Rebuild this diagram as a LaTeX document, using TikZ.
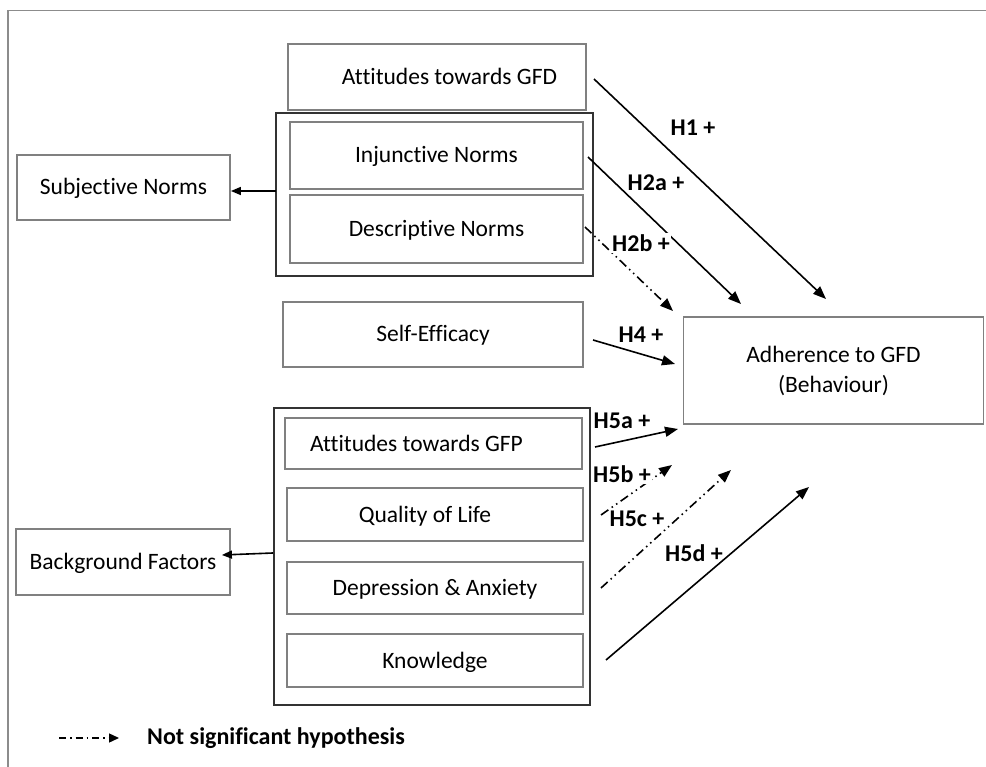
\documentclass[tikz,border=0pt]{standalone}
\usepackage{fontspec}
\setmainfont{Carlito}[Ligatures={NoCommon,NoRequired,NoContextual}]
\usetikzlibrary{arrows.meta,calc}
\begin{document}
\begin{tikzpicture}[x=1pt,y=-1pt,
  every node/.style={font=\fontsize{23.5}{30}\selectfont},
  inbox/.style={draw=black!50,line width=1.8pt,minimum width=#1,inner sep=0pt,
    text height=17pt,text depth=2pt},
  grpbox/.style={draw=black!80,line width=1.8pt},
  lbl/.style={font=\fontsize{24}{28}\selectfont\bfseries,inner sep=0pt},
  hyp/.style={line width=1.6pt,-{Triangle[length=13pt,width=10pt]}},
  nshyp/.style={hyp,dash pattern=on 9pt off 4pt on 1.5pt off 4pt on 1.5pt off 4pt}]
\useasboundingbox (0,0) rectangle (986,767);
% page frame (top and left edges)
\draw[black!45,line width=1.2pt] (986,10.5) -- (8,10.5) -- (8,767);

% attitudes
\node[inbox=298pt,minimum height=66pt] (att) at (437,77) {\hspace*{25pt}Attitudes towards GFD};

% norms group
\draw[grpbox] (276,113) rectangle (593,276);
\coordinate (normsL) at (276,191);
\node[inbox=293pt,minimum height=67pt] (inj) at (436.5,155.5) {Injunctive Norms};
\node[inbox=293pt,minimum height=68pt] (des) at (436.5,229) {Descriptive Norms};
\node[inbox=213pt,minimum height=65pt] (subj) at (123.5,187.5) {Subjective Norms};

% self-efficacy
\node[inbox=300pt,minimum height=65pt] (self) at (433,334.5) {Self-Efficacy};

% outcome
\node[draw=black!50,line width=1.8pt,minimum width=300pt,minimum height=107pt,
  inner sep=0pt,align=center] (adh) at (833.5,370.5) {Adherence to GFD\\(Behaviour)};

% background group
\draw[grpbox] (274,408) rectangle (590,705);
\coordinate (bgL) at (273,553);
\node[inbox=297pt,minimum height=51pt] (agfp) at (433.5,443.5) {Attitudes towards GFP\hspace*{34pt}};
\node[inbox=296pt,minimum height=53pt] (qol) at (435,514.5) {Quality of Life\hspace*{20pt}};
\node[inbox=296pt,minimum height=52pt] (dep) at (435,588) {Depression \& Anxiety};
\node[inbox=296pt,minimum height=53pt] (know) at (435,660.5) {Knowledge};
\node[inbox=214pt,minimum height=66pt] (bg) at (123,562) {Background Factors};

% group-to-construct links
\draw[line width=1.6pt,-{Triangle[length=10pt,width=8pt]}] (normsL) -- (subj.east |- normsL);
\draw[line width=1.6pt,-{Triangle[length=10pt,width=8pt]}] (bgL) -- ($(bg.east |- 0,555)+(-9,0)$);

% hypothesis end points
\coordinate (h1s) at (594,79);   \coordinate (h1e) at (826,299);
\coordinate (h2as) at (588,157); \coordinate (h2ae) at (741,304);
\coordinate (h2bs) at (585,227); \coordinate (h2be) at (673,311);
\coordinate (h4s) at (593,340);  \coordinate (h4e) at (675,364);
\coordinate (h5as) at (595,447); \coordinate (h5ae) at (678,429);
\coordinate (h5bs) at (601,515); \coordinate (h5be) at (672,465);
\coordinate (h5cs) at (601,588); \coordinate (h5ce) at (731,470);
\coordinate (h5ds) at (606,660); \coordinate (h5de) at (809,487);

\draw[hyp] (h1s) -- (h1e);
\draw[hyp] (h2as) -- (h2ae);
\draw[nshyp] (h2bs) -- (h2be);
\draw[hyp] (h4s) -- (h4e);
\draw[hyp] (h5as) -- (h5ae);
\draw[nshyp] (h5bs) -- (h5be);
\draw[nshyp] (h5cs) -- (h5ce);
\draw[hyp] (h5ds) -- (h5de);

% hypothesis labels
\node[lbl] (l1) at (693,128) {H1 +};
\node[lbl] (l2a) at (656,183) {H2a +};
\node[lbl,fill=white,inner sep=1pt] (l2b) at (641,243) {H2b +};
\node[lbl] (l4) at (641,335) {H4 +};
\node[lbl] (l5a) at (622,421) {H5a +};
\node[lbl,fill=white,inner sep=1pt] (l5b) at (622,474) {H5b +};
\node[lbl,fill=white,inner sep=1pt] (l5c) at (637,519) {H5c +};
\node[lbl] (l5d) at (694,553) {H5d +};

% legend
\coordinate (legs) at (59,738);
\coordinate (lege) at (119,738);
\draw[line width=1.4pt,dash pattern=on 7pt off 4pt on 1.5pt off 4pt,-{Triangle[length=10pt,width=9pt]}] (legs) -- (lege);
\node[lbl,anchor=west] (legtxt) at (147,738) {Not significant hypothesis};
\end{tikzpicture}
\end{document}
